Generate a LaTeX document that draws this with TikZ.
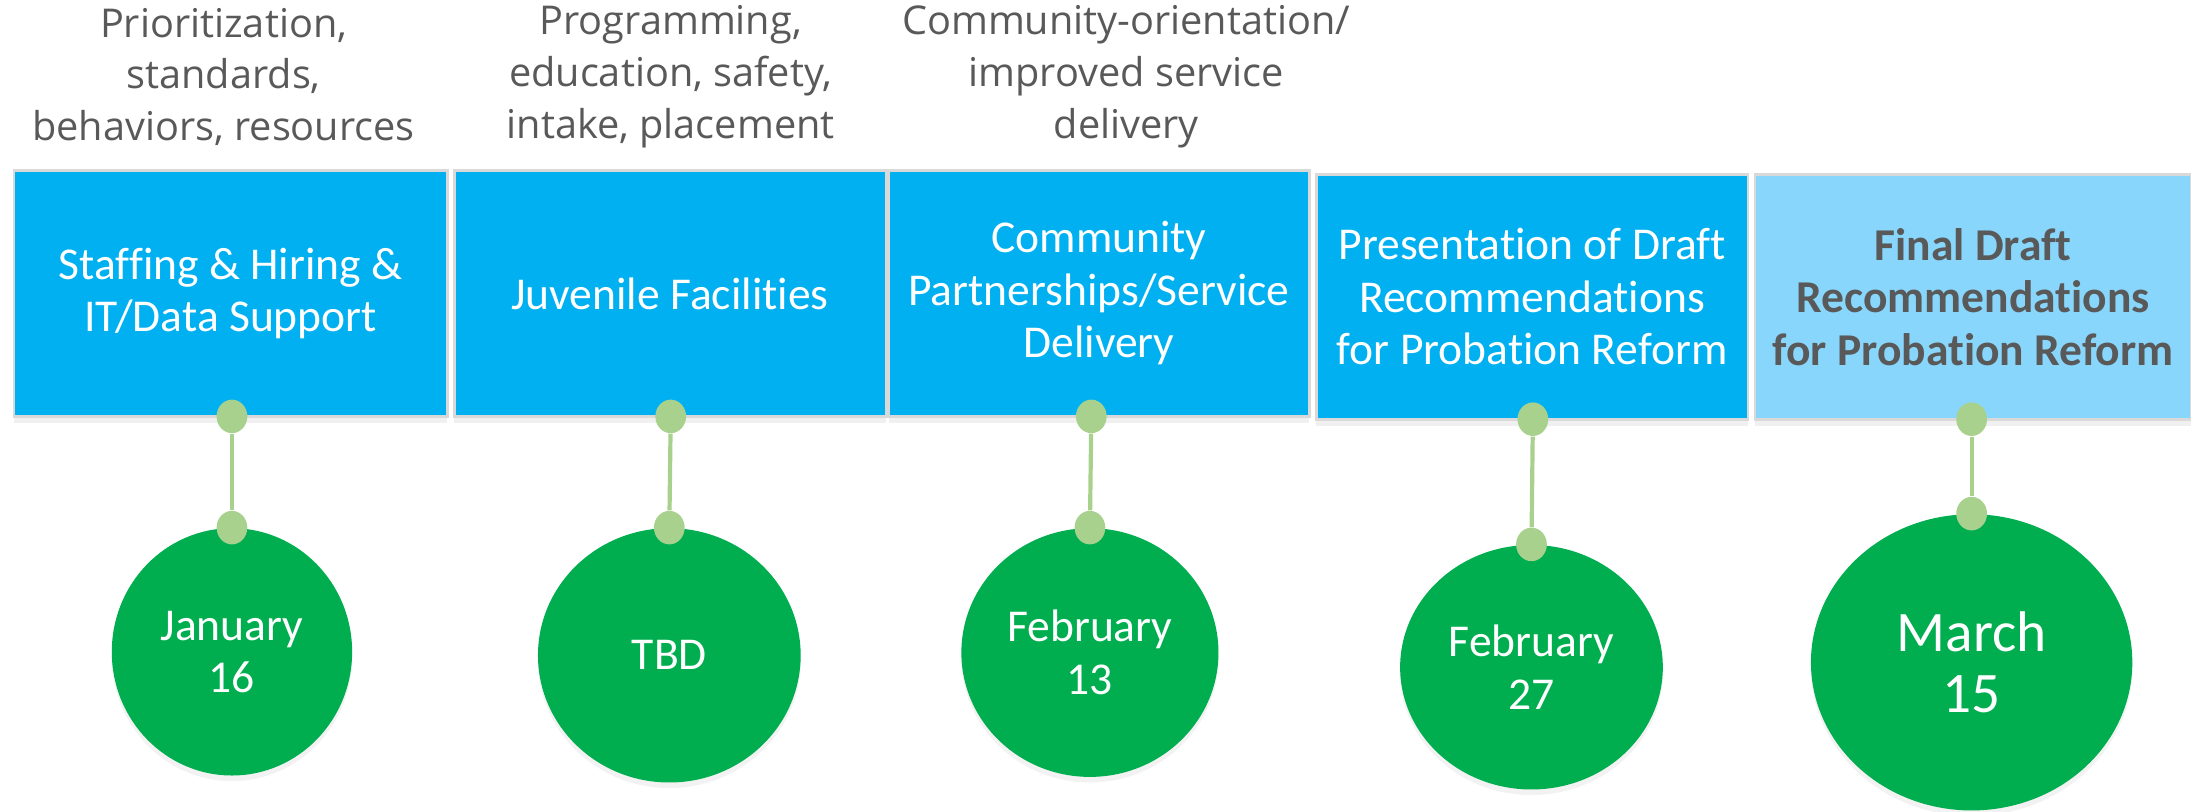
\documentclass[tikz,border=0pt]{standalone}
\usepackage{fontspec}
\setmainfont{Carlito}[Ligatures=NoCommon]
\newfontfamily\notefont{Open Sans}
\usetikzlibrary{shapes.geometric,shadows}
\definecolor{boxblue}{HTML}{00B0F0}
\definecolor{paleblue}{HTML}{88D6FB}
\definecolor{dategreen}{HTML}{00AE4F}
\definecolor{pingreen}{HTML}{A9D18E}
\definecolor{notegray}{HTML}{595959}
\tikzset{
	topic/.style={rectangle, fill=boxblue, draw=black!15, line width=1pt, text=white, align=center,
		drop shadow={opacity=0.12, shadow xshift=0pt, shadow yshift=-2.5pt},
		font=\fontsize{16.3}{18.8}\selectfont},
	datecircle/.style={ellipse, fill=dategreen, text=white, align=center, inner sep=0pt,
		drop shadow={opacity=0.10, shadow xshift=0pt, shadow yshift=-2pt},
		font=\fontsize{16.3}{18.8}\selectfont},
	pindot/.style={ellipse, fill=pingreen, minimum width=11pt, minimum height=12pt, inner sep=0pt},
	topnote/.style={text=notegray, align=center, font=\notefont\fontsize{14.2}{18.5}\selectfont},
	stem/.style={pingreen, line width=1.5pt}
}
\begin{document}
\begin{tikzpicture}[x=0.5pt,y=-0.5pt]
	\useasboundingbox (0,0) rectangle (1568,581);
	% themes above the boxes
	\node[topnote] (n1) at (160,55) {Prioritization,\\standards,\\behaviors, resources};
	\node[topnote] (n2) at (480,55) {Programming,\\education, safety,\\intake, placement};
	\node[topnote] (n3) at (806,55) {Community-orientation/\\improved service\\delivery};
	% boxes
	\node[topic, minimum width=155pt, minimum height=88pt] (box1) at (165,210) {Staffing \& Hiring \&\\IT/Data Support};
	\node[topic, minimum width=154.5pt, minimum height=88pt] (box2) at (479.5,210) {Juvenile Facilities};
	\node[topic, minimum width=150.5pt, minimum height=88pt] (box3) at (786.5,210) {Community\\Partnerships/Service\\Delivery};
	\node[topic, minimum width=154.5pt, minimum height=87.5pt] (box4) at (1096.5,212.5) {Presentation of Draft\\Recommendations\\for Probation Reform};
	\node[topic, minimum width=156pt, minimum height=87.5pt, fill=paleblue, text=notegray, font=\fontsize{16.3}{18.8}\selectfont\bfseries] (box5) at (1412,212.5) {Final Draft\\Recommendations\\for Probation Reform};
	% dates
	\node[datecircle, minimum width=86pt, minimum height=88.5pt] (c1) at (166,466.5) {January\\16};
	\node[datecircle, minimum width=94pt, minimum height=91pt] (c2) at (479,469) {TBD};
	\node[datecircle, minimum width=92pt, minimum height=89pt] (c3) at (780,467) {February\\13};
	\node[datecircle, minimum width=94pt, minimum height=87.5pt] (c4) at (1096,477.5) {February\\27};
	\node[datecircle, minimum width=115pt, minimum height=106pt, font=\fontsize{20.5}{22}\selectfont] (c5) at (1411,474) {March\\15};
	% stems
	\node[pindot] (t1) at (166,298) {};
	\node[pindot] (t2) at (480,298) {};
	\node[pindot] (t3) at (781,298) {};
	\node[pindot] (t4) at (1097,300) {};
	\node[pindot] (t5) at (1411,300) {};
	\foreach \i in {1,...,5} {
		\node[pindot] (b\i) at (c\i.north) {};
		\draw[stem] (t\i) -- (b\i);
	}
\end{tikzpicture}
\end{document}
